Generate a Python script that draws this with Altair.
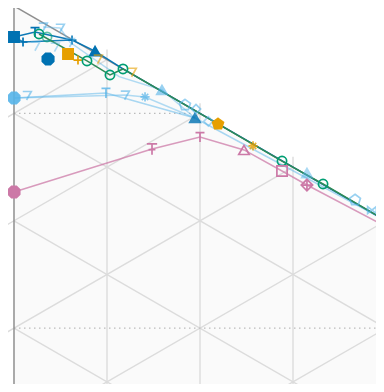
import math
import altair as alt
import pandas as pd

S3 = math.sqrt(3)

# ---- lattice (ternary grid) in plot units: 10 units per grid step, origin at apex ----
GRID_STEPS = [1, 2, 3, 4, 5]
DOTTED_LEVELS = [1, 3]

# ---- series markers: x, y (plot units), marker, filled, alpha ----
blue_x = [0.0, 0.97, 2.26, 3.66, 6.24, 8.71, 19.46, 39.78]
blue_y = [3.33, 3.87, 2.80, 5.70, 3.66, 4.85, 12.04, 22.97]
blue_m = ["square", "plus", "tee", "flower", "plus", "triangle", "triangle", "circle"]
blue_f = [1, 0, 0, 1, 0, 1, 1, 0]
blue_a = [1, 1, 1, 1, 0.9, 1, 0.8, 1]

sky_x = [0.0, 1.4, 3.12, 4.95, 6.02, 2.3, 4.4, 9.89, 11.94, 14.09, 15.91, 18.39, 19.57, 20.9, 31.5, 36.67, 38.49]
sky_y = [9.89, 9.6, 2.26, 2.37, 3.9, 4.3, 4.4, 9.35, 9.57, 9.78, 9.03, 10.65, 11.08, 12.4, 17.96, 20.86, 21.94]
sky_m = ["flower", "seven", "seven", "seven", "seven", "seven", "seven", "tee", "seven", "star", "triangle",
         "pentagon", "diamond", "diamond", "triangle", "pentagon", "bowtie"]
sky_f = [1, 0, 0, 0, 0, 0, 0, 0, 0, 0, 1, 0, 0, 0, 1, 0, 0]
sky_a = [0.9, 0.6, 0.6, 0.6, 0.5, 0.45, 0.45, 0.8, 0.6, 0.7, 0.6, 0.6, 0.6, 0.5, 0.5, 0.6, 0.6]

orange_x = [5.81, 6.88, 9.03, 12.69, 21.94, 25.7]
orange_y = [5.16, 5.81, 5.70, 7.10, 12.69, 15.05]
orange_m = ["square", "plus", "seven", "seven", "pentagon", "star"]
orange_f = [1, 0, 0, 0, 1, 0]
orange_a = [1, 1, 0.6, 0.6, 1, 0.8]

green_x = [2.69, 3.55, 7.85, 10.32, 11.72, 28.82, 33.23]
green_y = [3.01, 3.33, 5.91, 7.42, 6.77, 16.67, 19.14]
green_m = ["circle"] * 7
green_f = [0] * 7
green_a = [1, 0.6, 1, 1, 1, 1, 1]

pink_x = [0.0, 14.84, 20.0, 24.73, 28.82, 31.5]
pink_y = [20.0, 15.38, 14.09, 15.48, 17.74, 19.25]
pink_m = ["flower", "ttee", "tee", "triangle", "square", "diamondx"]
pink_f = [1, 0, 0, 0, 0, 0]
pink_a = [1, 1, 1, 1, 1, 1]

# ---- connecting lines ----
line_blue1_x = [0.0, 2.26, 6.24, 8.71, 11.72, 39.78]
line_blue1_y = [3.33, 2.80, 3.66, 4.85, 6.77, 22.97]
line_blue2_x = [0.0, 0.97, 6.24]
line_blue2_y = [3.33, 3.87, 3.66]
line_sky1_x = [0.0, 9.89, 19.46, 39.78]
line_sky1_y = [9.89, 9.35, 12.04, 22.97]
line_sky2_x = [0.0, 11.94, 14.09, 19.46]
line_sky2_y = [9.89, 9.57, 9.78, 12.04]
line_sky3_x = [3.12, 4.95, 6.02, 11.3, 15.91, 19.46]
line_sky3_y = [2.26, 2.37, 3.9, 7.6, 9.03, 12.04]
line_green_x = [2.69, 7.85, 10.32, 11.72, 28.82, 33.23, 39.78]
line_green_y = [3.01, 5.91, 7.42, 6.77, 16.67, 19.14, 22.97]
line_pink_x = [0.0, 14.84, 20.0, 24.73, 28.82, 31.5, 39.78]
line_pink_y = [20.0, 15.38, 14.09, 15.48, 17.74, 19.25, 23.6]

SERIES = ["blue", "sky", "orange", "green", "greenline", "pink"]
COLORS = ["#0072B2", "#56B4E9", "#E69F00", "#009E73", "#2E8B57", "#CC79A7"]

MARKERS = ["square", "circle", "triangle", "diamond", "plus", "tee", "ttee", "seven",
           "pentagon", "star", "flower", "bowtie", "diamondx"]
PATHS = [
    "square", "circle", "triangle-up", "diamond",
    "M-1,0L1,0M0,-1L0,1",
    "M-0.9,-0.9L0.9,-0.9M0,-0.9L0,1",
    "M-0.9,-0.9L0.9,-0.9M0,-0.9L0,1M-0.6,0.1L0.6,0.1",
    "M-0.9,-0.8L0.9,-0.8L-0.1,1",
    "M0,-1L0.95,-0.31L0.59,0.81L-0.59,0.81L-0.95,-0.31Z",
    "M-1,0L1,0M0,-1L0,1M-0.7,-0.7L0.7,0.7M-0.7,0.7L0.7,-0.7",
    "M-0.42,-1L0.42,-1L1,-0.42L1,0.42L0.42,1L-0.42,1L-1,0.42L-1,-0.42Z",
    "M-1,-0.8L1,0.8L1,-0.8L-1,0.8Z",
    "M0,-1L1,0L0,1L-1,0ZM-1,0L1,0M0,-1L0,1",
]
SIZES = [105, 85, 110, 85, 80, 100, 130, 90, 130, 85, 130, 75, 130]
SIZE_OF = dict(zip(MARKERS, SIZES))

# ---- build tables ----
pts = []
for name, xs, ys, ms, fs, alph in [
    ("blue", blue_x, blue_y, blue_m, blue_f, blue_a),
    ("sky", sky_x, sky_y, sky_m, sky_f, sky_a),
    ("orange", orange_x, orange_y, orange_m, orange_f, orange_a),
    ("green", green_x, green_y, green_m, green_f, green_a),
    ("pink", pink_x, pink_y, pink_m, pink_f, pink_a),
]:
    for x, y, m, f, a in zip(xs, ys, ms, fs, alph):
        pts.append({"series": name, "x": x, "y": y, "marker": m, "filled": f,
                    "alpha": a, "sz": SIZE_OF[m]})
pts = pd.DataFrame(pts)

lines = []
for lid, name, xs, ys, a in [
    ("b1", "blue", line_blue1_x, line_blue1_y, 0.95),
    ("b2", "blue", line_blue2_x, line_blue2_y, 0.9),
    ("s1", "sky", line_sky1_x, line_sky1_y, 0.5),
    ("s2", "sky", line_sky2_x, line_sky2_y, 0.45),
    ("s3", "sky", line_sky3_x, line_sky3_y, 0.45),
    ("g", "greenline", line_green_x, line_green_y, 1.0),
    ("p", "pink", line_pink_x, line_pink_y, 0.75),
]:
    for i, (x, y) in enumerate(zip(xs, ys)):
        lines.append({"lid": lid, "series": name, "x": x, "y": y, "seq": i, "alpha": a})
lines = pd.DataFrame(lines)

segs = []
for k in GRID_STEPS:
    segs.append({"x": 10 * k, "y": 10 * k / S3 - 1.1, "x2": 10 * k, "y2": 50})
    segs.append({"x": 0, "y": 20 * k / S3, "x2": 50, "y2": (50 + 20 * k) / S3})
    segs.append({"x": -1, "y": (20 * k + 1) / S3, "x2": 10 * k, "y2": 10 * k / S3})
segs = pd.DataFrame(segs)

dots = pd.DataFrame([{"x": 0, "y": 20 * k / S3, "x2": 20 * k, "y2": 20 * k / S3} for k in DOTTED_LEVELS])
spines = pd.DataFrame([
    {"x": 0, "y": 0, "x2": 0, "y2": 50},
    {"x": -1, "y": -1 / S3, "x2": 50, "y2": 50 / S3},
])
bg = pd.DataFrame({"x": [0, 50], "y": [0, 50 / S3], "y2": [50, 50]})

# plot area 368 x 376 px at page offset (8, 8); 9.3 px per unit, apex at page (14, 6)
XS = alt.Scale(domain=[-0.645, 38.925], nice=False, zero=False)
YS = alt.Scale(domain=[0.215, 40.645], nice=False, zero=False, reverse=True)
CS = alt.Scale(domain=SERIES, range=COLORS)
SH = alt.Scale(domain=MARKERS, range=PATHS)

background = alt.Chart(bg).mark_area(clip=True, color="#fafafa").encode(
    x=alt.X("x:Q", scale=XS, axis=None),
    y=alt.Y("y:Q", scale=YS, axis=None),
    y2="y2:Q",
)
grid = alt.Chart(segs).mark_rule(clip=True, color="#dcdcdc", strokeWidth=1.4).encode(
    x=alt.X("x:Q", scale=XS, axis=None), y=alt.Y("y:Q", scale=YS, axis=None), x2="x2:Q", y2="y2:Q"
)
dotted = alt.Chart(dots).mark_rule(clip=True, color="#bbbbbb", strokeWidth=1.2, strokeDash=[1.5, 3.5]).encode(
    x=alt.X("x:Q", scale=XS, axis=None), y=alt.Y("y:Q", scale=YS, axis=None), x2="x2:Q", y2="y2:Q"
)
spine = alt.Chart(spines).mark_rule(clip=True, color="#8f8f8f", strokeWidth=1.5).encode(
    x=alt.X("x:Q", scale=XS, axis=None), y=alt.Y("y:Q", scale=YS, axis=None), x2="x2:Q", y2="y2:Q"
)
line_layer = alt.Chart(lines).mark_line(clip=True, strokeWidth=1.5).encode(
    x=alt.X("x:Q", scale=XS, axis=None),
    y=alt.Y("y:Q", scale=YS, axis=None),
    color=alt.Color("series:N", scale=CS, legend=None),
    detail="lid:N",
    order="seq:Q",
    opacity=alt.Opacity("alpha:Q", scale=None),
)
points = alt.Chart(pts).mark_point(clip=True, strokeWidth=1.7).encode(
    x=alt.X("x:Q", scale=XS, axis=None),
    y=alt.Y("y:Q", scale=YS, axis=None),
    stroke=alt.Stroke("series:N", scale=CS, legend=None),
    fill=alt.condition("datum.filled == 1",
                       alt.Fill("series:N", scale=CS, legend=None),
                       alt.value("transparent")),
    shape=alt.Shape("marker:N", scale=SH, legend=None),
    size=alt.Size("sz:Q", scale=None, legend=None),
    opacity=alt.Opacity("alpha:Q", scale=None),
)

chart = alt.layer(background, grid, dotted, spine, line_layer, points).properties(
    width=368, height=376, padding=0
).configure_view(stroke=None)

chart.save("out.html", embed_options={"renderer": "svg", "actions": False})
